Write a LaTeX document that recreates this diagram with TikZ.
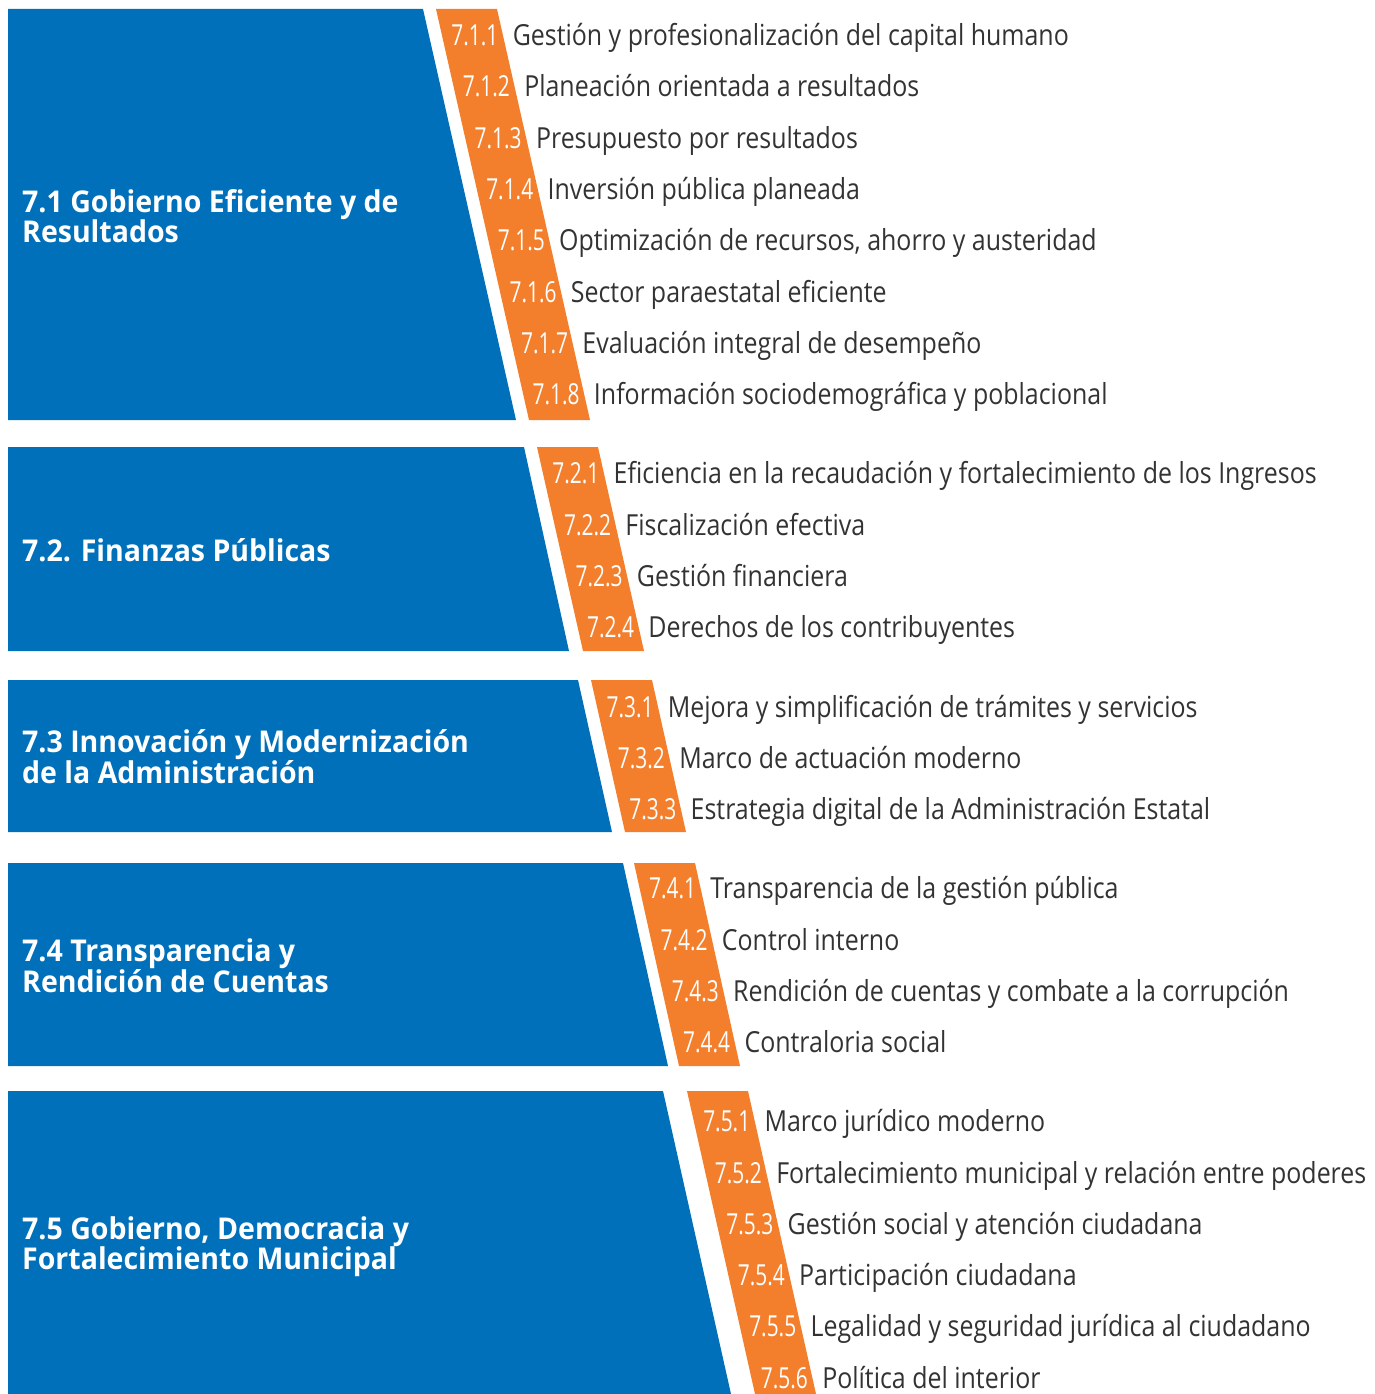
\documentclass[tikz,border=0pt]{standalone}
\usepackage{fontspec}
\setmainfont{Open Sans}
\newfontfamily\temafont[FakeStretch=0.86]{Open Sans}
\newfontfamily\numfont[FakeStretch=0.72]{Open Sans}
\newfontfamily\ejefont[FakeStretch=0.95]{Open Sans}
\usepackage{xcolor}
\usetikzlibrary{positioning,calc}
\definecolor{azul}{RGB}{0,112,186}
\definecolor{naranja}{RGB}{243,127,44}
\definecolor{gristexto}{RGB}{51,51,51}

\begin{document}
\begin{tikzpicture}[x=1pt, y=-1pt,
	eje/.style={anchor=west, align=left, text=white, inner sep=0pt, font=\ejefont\bfseries\fontsize{30}{30}\selectfont},
	num/.style={anchor=base, text=white, inner sep=0pt, font=\numfont\fontsize{29}{29}\selectfont},
	tema/.style={text=gristexto, inner sep=0pt, font=\temafont\fontsize{29}{29}\selectfont},
	panel/.style={fill=azul},
	franja/.style={fill=naranja}]
	
	\useasboundingbox (0,0) rectangle (1375,1394);
	
	% 7.1
	\coordinate (a1) at (423,9);  \coordinate (b1) at (516,420);
	\coordinate (o1) at (436,9);  \coordinate (p1) at (529,420);
	\fill[panel] (8,9) -- (a1) -- (b1) -- (8,420) -- cycle;
	\fill[franja] (o1) -- ($(o1)+(61,0)$) -- ($(p1)+(61,0)$) -- (p1) -- cycle;
	\node[eje] (eje1) at (22,216) {7.1 Gobierno Eficiente y de\\Resultados};
	\foreach \y/\cod/\txt [evaluate=\y as \f using (\y-9)/411, count=\i] in {
		35/7.1.1/{Gestión y profesionalización del capital humano},
		86/7.1.2/{Planeación orientada a resultados},
		138/7.1.3/{Presupuesto por resultados},
		189/7.1.4/{Inversión pública planeada},
		240/7.1.5/{Optimización de recursos, ahorro y austeridad},
		292/7.1.6/{Sector paraestatal eficiente},
		343/7.1.7/{Evaluación integral de desempeño},
		394/7.1.8/{Información sociodemográfica y poblacional}}{
		\node[num] (n1-\i) at ($(o1)!\f!(p1)+(33,10.5)$) {\cod};
		\node[tema, base right=14pt of n1-\i] (t1-\i) {\txt};
	}
	
	% 7.2
	\coordinate (a2) at (524,447);  \coordinate (b2) at (569,651);
	\coordinate (o2) at (537,447);  \coordinate (p2) at (583,651);
	\fill[panel] (8,447) -- (a2) -- (b2) -- (8,651) -- cycle;
	\fill[franja] (o2) -- ($(o2)+(61,0)$) -- ($(p2)+(61,0)$) -- (p2) -- cycle;
	\node[eje] (eje2) at (22,550) {7.2. Finanzas Públicas};
	\foreach \y/\cod/\txt [evaluate=\y as \f using (\y-447)/204, count=\i] in {
		473/7.2.1/{Eficiencia en la recaudación y fortalecimiento de los Ingresos},
		525/7.2.2/{Fiscalización efectiva},
		576/7.2.3/{Gestión financiera},
		627/7.2.4/{Derechos de los contribuyentes}}{
		\node[num] (n2-\i) at ($(o2)!\f!(p2)+(33,10.5)$) {\cod};
		\node[tema, base right=14pt of n2-\i] (t2-\i) {\txt};
	}
	
	% 7.3
	\coordinate (a3) at (578,680);  \coordinate (b3) at (612,832);
	\coordinate (o3) at (591,680);  \coordinate (p3) at (625,832);
	\fill[panel] (8,680) -- (a3) -- (b3) -- (8,832) -- cycle;
	\fill[franja] (o3) -- ($(o3)+(61,0)$) -- ($(p3)+(61,0)$) -- (p3) -- cycle;
	\node[eje] (eje3) at (22,757) {7.3 Innovación y Modernización\\de la Administración};
	\foreach \y/\cod/\txt [evaluate=\y as \f using (\y-680)/152, count=\i] in {
		707/7.3.1/{Mejora y simplificación de trámites y servicios},
		758/7.3.2/{Marco de actuación moderno},
		809/7.3.3/{Estrategia digital de la Administración Estatal}}{
		\node[num] (n3-\i) at ($(o3)!\f!(p3)+(33,10.5)$) {\cod};
		\node[tema, base right=14pt of n3-\i] (t3-\i) {\txt};
	}
	
	% 7.4
	\coordinate (a4) at (623,863);  \coordinate (b4) at (668,1066);
	\coordinate (o4) at (634,863);  \coordinate (p4) at (679,1066);
	\fill[panel] (8,863) -- (a4) -- (b4) -- (8,1066) -- cycle;
	\fill[franja] (o4) -- ($(o4)+(61,0)$) -- ($(p4)+(61,0)$) -- (p4) -- cycle;
	\node[eje] (eje4) at (22,966) {7.4 Transparencia y\\Rendición de Cuentas};
	\foreach \y/\cod/\txt [evaluate=\y as \f using (\y-863)/203, count=\i] in {
		888/7.4.1/{Transparencia de la gestión pública},
		940/7.4.2/{Control interno},
		991/7.4.3/{Rendición de cuentas y combate a la corrupción},
		1042/7.4.4/{Contraloria social}}{
		\node[num] (n4-\i) at ($(o4)!\f!(p4)+(33,10.5)$) {\cod};
		\node[tema, base right=14pt of n4-\i] (t4-\i) {\txt};
	}
	
	% 7.5
	\coordinate (a5) at (663,1091);  \coordinate (b5) at (731,1394);
	\coordinate (o5) at (687,1091);  \coordinate (p5) at (755,1394);
	\fill[panel] (8,1091) -- (a5) -- (b5) -- (8,1394) -- cycle;
	\fill[franja] (o5) -- ($(o5)+(61,0)$) -- ($(p5)+(61,0)$) -- (p5) -- cycle;
	\node[eje] (eje5) at (22,1247) {7.5 Gobierno, Democracia y\\Fortalecimiento Municipal};
	\foreach \y/\cod/\txt [evaluate=\y as \f using (\y-1091)/303, count=\i] in {
		1121/7.5.1/{Marco jurídico moderno},
		1173/7.5.2/{Fortalecimiento municipal y relación entre poderes},
		1224/7.5.3/{Gestión social y atención ciudadana},
		1275/7.5.4/{Participación ciudadana},
		1326/7.5.5/{Legalidad y seguridad jurídica al ciudadano},
		1378/7.5.6/{Política del interior}}{
		\node[num] (n5-\i) at ($(o5)!\f!(p5)+(33,10.5)$) {\cod};
		\node[tema, base right=14pt of n5-\i] (t5-\i) {\txt};
	}
	
\end{tikzpicture}
\end{document}
